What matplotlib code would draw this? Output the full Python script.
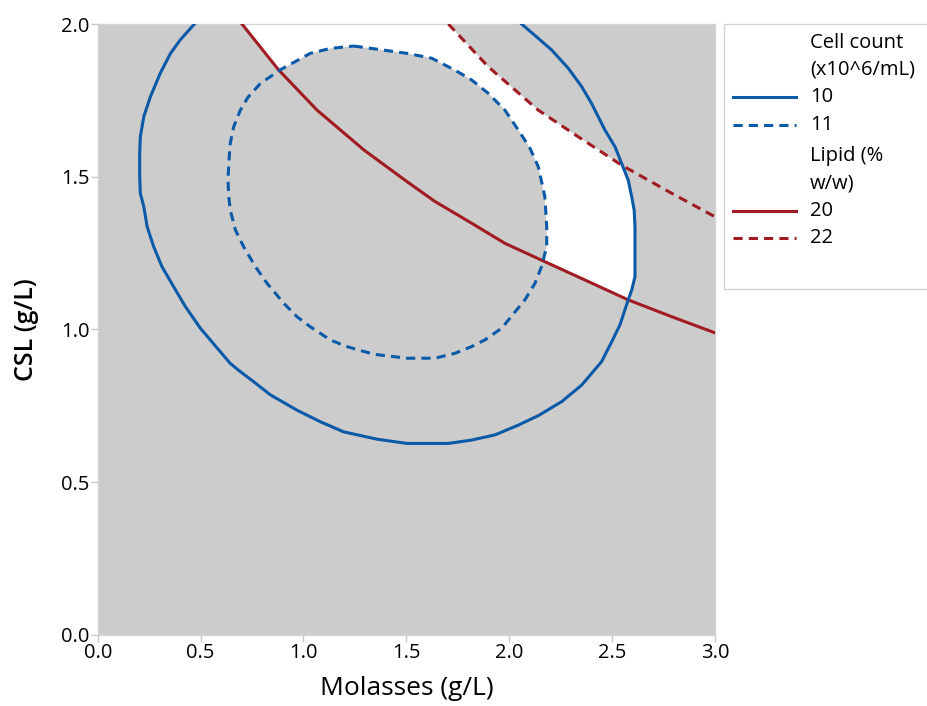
import matplotlib
matplotlib.use("Agg")
import matplotlib.pyplot as plt
from matplotlib.patches import Rectangle
from matplotlib.lines import Line2D

plt.rcParams['font.family'] = ['Open Sans', 'DejaVu Sans']

# ---- Data (Molasses g/L, CSL g/L) ----
cell10_x = [0.470, 0.401, 0.353, 0.304, 0.256, 0.224, 0.207, 0.204, 0.204, 0.207, 0.224,
            0.240, 0.272, 0.312, 0.369, 0.426, 0.499, 0.596, 0.644, 0.693, 0.758, 0.839,
            0.968, 1.082, 1.195, 1.357, 1.503, 1.704, 1.817, 1.931, 2.044, 2.141, 2.255,
            2.352, 2.449, 2.498, 2.538, 2.578, 2.595, 2.611, 2.611, 2.611, 2.607, 2.595,
            2.578, 2.546, 2.514, 2.465, 2.400, 2.352, 2.287, 2.206, 2.141, 2.060]
cell10_y = [2.000, 1.948, 1.903, 1.839, 1.762, 1.697, 1.631, 1.577, 1.500, 1.446, 1.402,
            1.337, 1.271, 1.206, 1.140, 1.075, 1.004, 0.927, 0.889, 0.862, 0.829, 0.786,
            0.736, 0.698, 0.665, 0.641, 0.627, 0.627, 0.638, 0.655, 0.687, 0.718, 0.764,
            0.818, 0.895, 0.960, 1.015, 1.097, 1.129, 1.173, 1.249, 1.336, 1.391, 1.435,
            1.489, 1.544, 1.598, 1.653, 1.740, 1.795, 1.855, 1.915, 1.953, 2.000]

cell11_x = [1.244, 1.503, 1.623, 1.736, 1.817, 1.898, 1.979, 2.044, 2.101, 2.141, 2.173,
            2.182, 2.182, 2.157, 2.125, 2.076, 1.963, 1.882, 1.817, 1.736, 1.639, 1.503,
            1.341, 1.211, 1.130, 1.033, 0.968, 0.904, 0.823, 0.766, 0.709, 0.669, 0.644,
            0.637, 0.633, 0.637, 0.644, 0.661, 0.693, 0.730, 0.790, 0.887, 1.033, 1.130,
            1.244]
cell11_y = [1.928, 1.904, 1.888, 1.849, 1.817, 1.773, 1.718, 1.653, 1.593, 1.533, 1.435,
            1.336, 1.271, 1.206, 1.151, 1.097, 1.004, 0.966, 0.944, 0.922, 0.906, 0.906,
            0.919, 0.944, 0.966, 1.009, 1.042, 1.086, 1.151, 1.206, 1.271, 1.326, 1.391,
            1.435, 1.489, 1.544, 1.609, 1.664, 1.718, 1.760, 1.805, 1.850, 1.904, 1.920,
            1.928]

lipid20_x = [0.701, 0.880, 1.066, 1.293, 1.503, 1.639, 1.817, 1.979, 2.173, 2.368, 2.578, 2.789, 3.0]
lipid20_y = [2.0, 1.849, 1.718, 1.588, 1.484, 1.419, 1.348, 1.282, 1.222, 1.162, 1.097, 1.042, 0.989]

lipid22_x = [1.704, 1.898, 2.141, 2.335, 2.546, 2.789, 3.0]
lipid22_y = [2.0, 1.860, 1.718, 1.631, 1.538, 1.446, 1.369]

x_ticks = [0.0, 0.5, 1.0, 1.5, 2.0, 2.5, 3.0]
y_ticks = [0.0, 0.5, 1.0, 1.5, 2.0]
xmin, xmax, ymin, ymax = 0.0, 3.0, 0.0, 2.0

BLUE = '#0b5aa8'
RED = '#a01c22'
GRAY = '#cccccc'
TXT = '#000000'

fig = plt.figure(figsize=(9.28, 7.06), dpi=100)
ax = fig.add_axes([0.1053, 0.1006, 0.6652, 0.8654])
ax.set_xlim(xmin, xmax)
ax.set_ylim(ymin, ymax)
ax.set_facecolor(GRAY)

# Feasible (white) region: inside cell=10, outside cell=11, between lipid 20 and 22
ax.fill(cell10_x, cell10_y, color='white', lw=0, zorder=1)
ax.fill(cell11_x, cell11_y, color=GRAY, lw=0, zorder=2)
ax.fill([xmin] + lipid20_x + [xmax, xmin], [ymax] + lipid20_y + [ymin, ymin],
        color=GRAY, lw=0, zorder=2)
ax.fill(lipid22_x + [xmax], lipid22_y + [ymax], color=GRAY, lw=0, zorder=2)

lw = 2.2
ax.plot(cell10_x, cell10_y, color=BLUE, lw=lw, zorder=4, solid_joinstyle='round')
ax.plot(cell11_x, cell11_y, color=BLUE, lw=lw, ls=(0, (3, 2)), zorder=4)
ax.plot(lipid20_x, lipid20_y, color=RED, lw=lw, zorder=3, solid_joinstyle='round')
ax.plot(lipid22_x, lipid22_y, color=RED, lw=lw, ls=(0, (3, 2)), zorder=3)

ax.set_xticks(x_ticks)
ax.set_yticks(y_ticks)
ax.set_xticklabels([f"{v:.1f}" for v in x_ticks])
ax.set_yticklabels([f"{v:.1f}" for v in y_ticks])
ax.tick_params(axis='both', direction='out', length=5, width=1, color='#c8c8c8',
               labelsize=14.5, labelcolor=TXT, pad=1)
for s in ax.spines.values():
    s.set_color('#d4d4d4')
    s.set_linewidth(1)

ax.set_xlabel('Molasses (g/L)', fontsize=19, color=TXT, labelpad=9)
ax.set_ylabel('CSL (g/L)', fontsize=18, fontweight='semibold', color=TXT, labelpad=16)

# ---- Legend (manual, clipped at figure right edge) ----
W, H = 928, 706
def fx(px):
    return px / W
def fy(py):
    return 1 - py / H

fig.add_artist(Rectangle((fx(724), fy(289)), fx(240), fy(24) - fy(289),
                         transform=fig.transFigure, facecolor='white',
                         edgecolor='#d4d4d4', lw=1))
entries = [
    ('Cell count', None, 43),
    ('(x10^6/mL)', None, 70),
    ('10', (BLUE, '-'), 97),
    ('11', (BLUE, (0, (3, 2))), 125),
    ('Lipid (%', None, 156),
    ('w/w)', None, 183),
    ('20', (RED, '-'), 211),
    ('22', (RED, (0, (3, 2))), 238),
]
for label, style, py in entries:
    fig.text(fx(810), fy(py), label, fontsize=14.5, va='center', ha='left', color=TXT)
    if style is not None:
        fig.add_artist(Line2D([fx(733), fx(796)], [fy(py), fy(py)], color=style[0],
                              ls=style[1], lw=lw, transform=fig.transFigure))

fig.savefig('out.png', dpi=100)
